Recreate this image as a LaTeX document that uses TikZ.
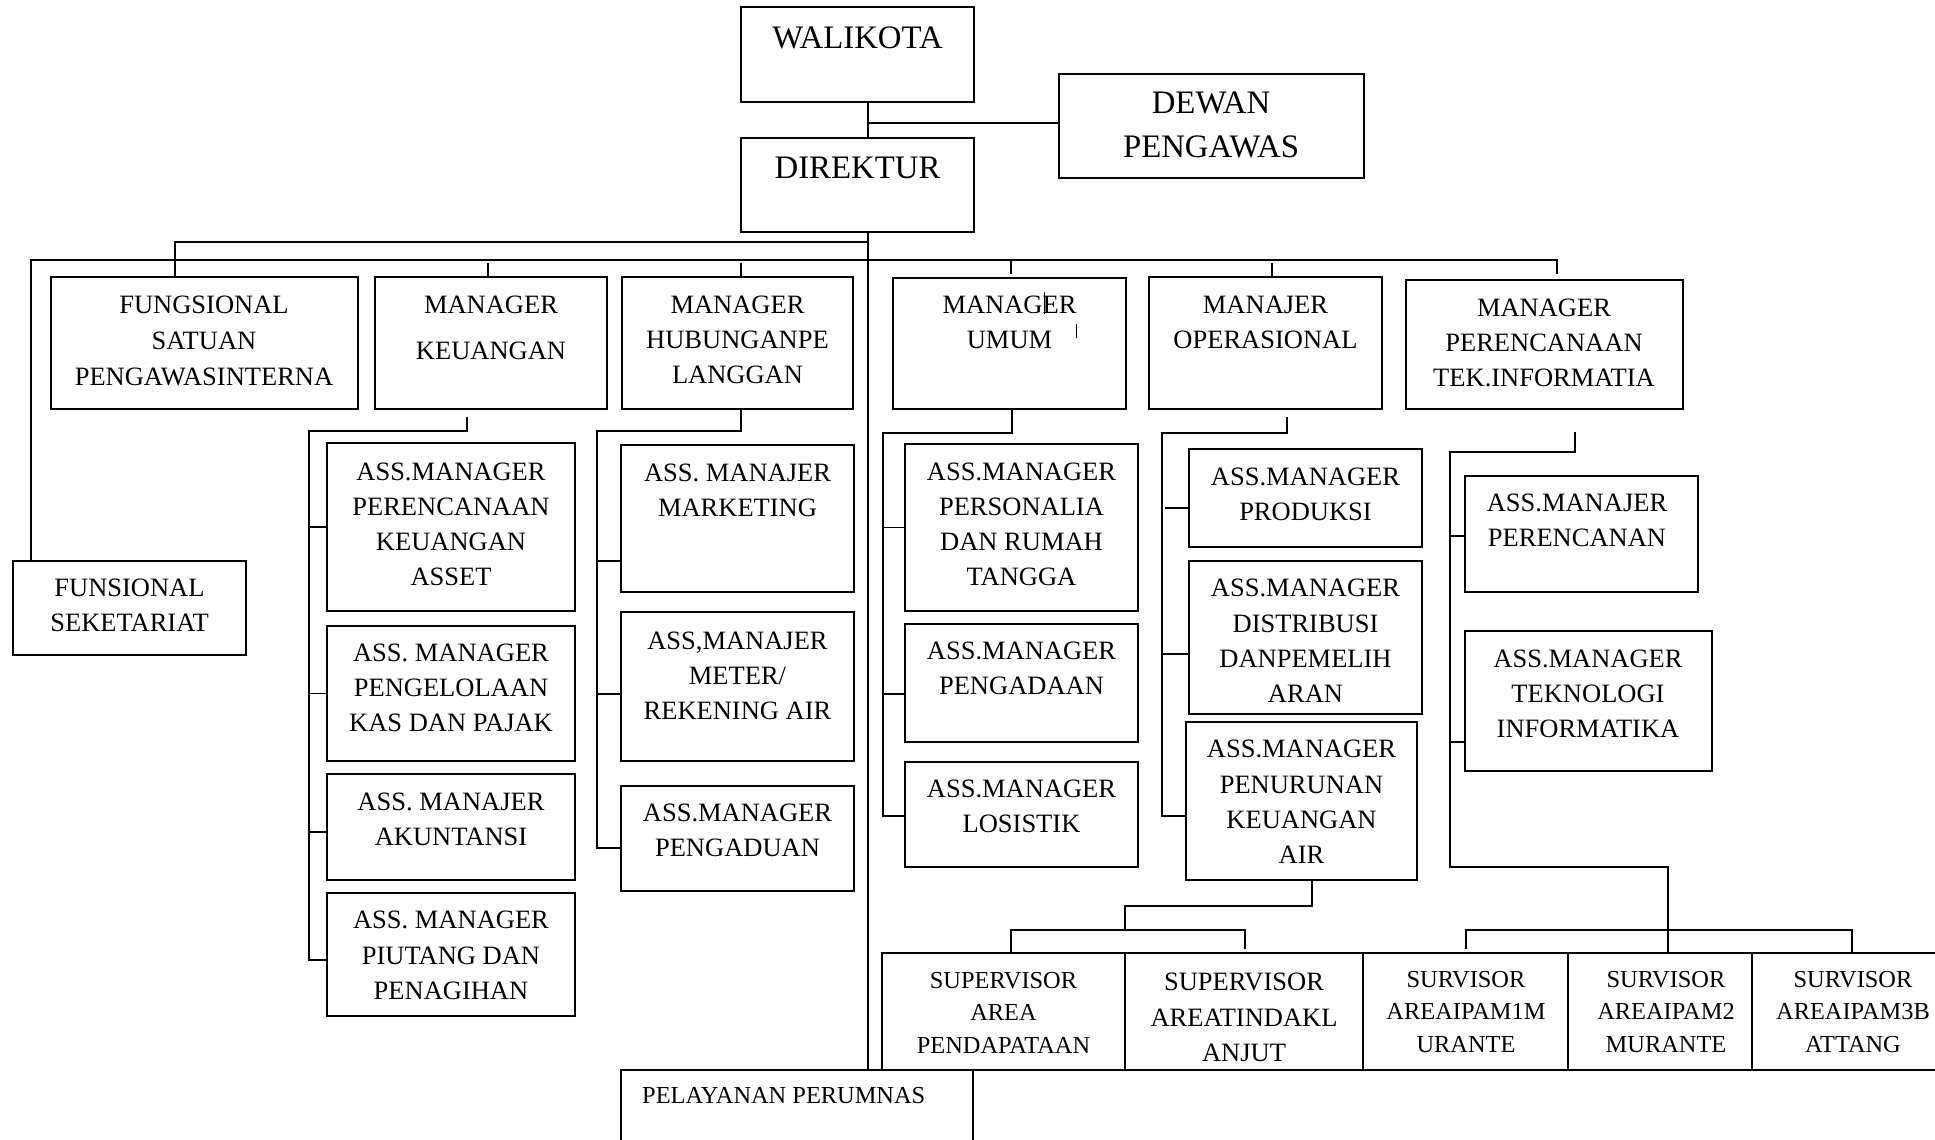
\documentclass[tikz,border=0pt]{standalone}
\usepackage{fontspec}
\setmainfont{Liberation Serif}
\usetikzlibrary{fit}

% a framed unit given by two opposite corners
\newcommand{\unitbox}[5]{\node[box, fit={(#2,#3) (#4,#5)}] (#1) {};}

\begin{document}
\begin{tikzpicture}[x=1pt, y=-1pt,
  box/.style={draw, line width=2pt, inner sep=0pt, outer sep=0pt},
  ln/.style={line width=1.6pt},
  lbl/.style={inner sep=0pt, align=center, font=\fontsize{26.5}{35.2}\selectfont},
  big/.style={lbl, font=\fontsize{32.8}{44}\selectfont},
  small/.style={lbl, font=\fontsize{24.4}{32.5}\selectfont}]

\useasboundingbox (0,0) rectangle (1935,1140);
\clip (0,0) rectangle (1935,1140);
\fill[white] (0,0) rectangle (1935,1140);

% ---- top level
\unitbox{walikota}{741}{7}{974}{102}
\unitbox{dewan}{1059}{74}{1364}{178}
\unitbox{direktur}{741}{138}{974}{232}
\node[big] (walikota-t) at (857.5,38) {WALIKOTA};
\node[big] (dewan-t) at (1211,125) {DEWAN\\PENGAWAS};
\node[big] (direktur-t) at (857.5,168) {DIREKTUR};

% ---- managers
\unitbox{fsp}{51}{277}{358}{409}
\unitbox{mkeu}{375}{277}{607}{409}
\unitbox{mhub}{622}{277}{853}{409}
\unitbox{mumum}{893}{278}{1126}{409}
\unitbox{mops}{1149}{277}{1382}{409}
\unitbox{mren}{1406}{280}{1683}{409}
\unitbox{fsek}{13}{561}{246}{655}
\node[lbl, font=\fontsize{26.5}{36}\selectfont] (fsp-t) at (204,341) {FUNGSIONAL\\SATUAN\\PENGAWASINTERNA};
\node[lbl, font=\fontsize{26.5}{46}\selectfont] (mkeu-t) at (491,328) {MANAGER\\KEUANGAN};
\node[lbl] (mhub-t) at (737.5,340) {MANAGER\\HUBUNGANPE\\LANGGAN};
\node[lbl] (mumum-t) at (1009.5,322.5) {MANAGER\\UMUM};
\node[lbl] (mops-t) at (1265.5,322.5) {MANAJER\\OPERASIONAL};
\node[lbl] (mren-t) at (1544,343) {MANAGER\\PERENCANAAN\\TEK.INFORMATIA};
\node[lbl] (fsek-t) at (129.5,605.5) {FUNSIONAL\\SEKETARIAT};

% ---- keuangan
\unitbox{k1}{327}{443}{575}{611}
\unitbox{k2}{327}{626}{575}{761}
\unitbox{k3}{327}{774}{575}{880}
\unitbox{k4}{327}{893}{575}{1016}
\node[lbl] (k1-t) at (451,524.5) {ASS.MANAGER\\PERENCANAAN\\KEUANGAN\\ASSET};
\node[lbl] (k2-t) at (451,688) {ASS. MANAGER\\PENGELOLAAN\\KAS DAN PAJAK};
\node[lbl] (k3-t) at (451,819.5) {ASS. MANAJER\\AKUNTANSI};
\node[lbl] (k4-t) at (451,955.5) {ASS. MANAGER\\PIUTANG DAN\\PENAGIHAN};

% ---- hubungan pelanggan
\unitbox{h1}{621}{445}{854}{592}
\unitbox{h2}{621}{612}{854}{761}
\unitbox{h3}{621}{786}{854}{891}
\node[lbl] (h1-t) at (737.5,490) {ASS. MANAJER\\MARKETING};
\node[lbl] (h2-t) at (737.5,676) {ASS,MANAJER\\METER/\\REKENING AIR};
\node[lbl] (h3-t) at (737.5,830) {ASS.MANAGER\\PENGADUAN};

% ---- umum
\unitbox{u1}{905}{444}{1138}{611}
\unitbox{u2}{905}{624}{1138}{742}
\unitbox{u3}{905}{762}{1138}{867}
\node[lbl] (u1-t) at (1021.5,524.5) {ASS.MANAGER\\PERSONALIA\\DAN RUMAH\\TANGGA};
\node[lbl] (u2-t) at (1021.5,668.5) {ASS.MANAGER\\PENGADAAN};
\node[lbl] (u3-t) at (1021.5,806) {ASS.MANAGER\\LOSISTIK};

% ---- operasional
\unitbox{o1}{1189}{449}{1422}{547}
\unitbox{o2}{1189}{561}{1422}{714}
\unitbox{o3}{1186}{722}{1417}{880}
\node[lbl] (o1-t) at (1305.5,494) {ASS.MANAGER\\PRODUKSI};
\node[lbl] (o2-t) at (1305.5,641) {ASS.MANAGER\\DISTRIBUSI\\DANPEMELIH\\ARAN};
\node[lbl] (o3-t) at (1301.5,802) {ASS.MANAGER\\PENURUNAN\\KEUANGAN\\AIR};

% ---- perencanaan
\unitbox{p1}{1465}{476}{1698}{592}
\unitbox{p2}{1465}{631}{1712}{771}
\node[lbl] (p1-t) at (1577,520.5) {ASS.MANAJER\\PERENCANAN};
\node[lbl] (p2-t) at (1588,694) {ASS.MANAGER\\TEKNOLOGI\\INFORMATIKA};

% ---- supervisors
\unitbox{s1}{882}{953}{1125}{1070}
\unitbox{s2}{1125}{953}{1363}{1070}
\unitbox{s3}{1363}{953}{1568}{1070}
\unitbox{s4}{1568}{953}{1752}{1070}
\unitbox{s5}{1752}{953}{1950}{1070}
\node[small] (s1-t) at (1003.5,1012.5) {SUPERVISOR\\AREA\\PENDAPATAAN};
\node[lbl, font=\fontsize{26.5}{35.5}\selectfont] (s2-t) at (1244,1017.5) {SUPERVISOR\\AREATINDAKL\\ANJUT};
\node[small] (s3-t) at (1466,1012) {SURVISOR\\AREAIPAM1M\\URANTE};
\node[small] (s4-t) at (1666,1012) {SURVISOR\\AREAIPAM2\\MURANTE};
\node[small] (s5-t) at (1853,1012) {SURVISOR\\AREAIPAM3B\\ATTANG};

\unitbox{pel}{621}{1070}{973}{1160}
\node[small, anchor=west] (pel-t) at (642,1096) {PELAYANAN PERUMNAS};

% ---- trunk and top bars
\coordinate (trk) at (868,0);
\draw[ln] (walikota.south -| trk) -- (direktur.north -| trk);
\draw[ln] (direktur.south -| trk) -- (pel.north -| trk);
\draw[ln] ([yshift=3pt]dewan.west -| trk) -- ([yshift=3pt]dewan.west);
\coordinate (ja) at (868,242);
\coordinate (jb) at (175,242);
\draw[ln] (ja) -- (jb) -- (fsp.north -| jb);
\coordinate (bl) at (31,260);
\coordinate (br) at (1557,260);
\draw[ln] (fsek.north -| bl) -- (bl) -- (br) -- (1557,274);
\coordinate (xkeu) at (488,263);
\coordinate (xhub) at (741,263);
\coordinate (xumum) at (1011,260);
\coordinate (xops) at (1272,263);
\draw[ln] (xkeu) -- (mkeu.north -| xkeu);
\draw[ln] (xhub) -- (mhub.north -| xhub);
\draw[ln] (xumum) -- ([yshift=4pt]mumum.north -| xumum);
\draw[ln] (xops) -- (mops.north -| xops);

% ---- keuangan branches
\coordinate (k-a) at (467,417);
\coordinate (k-b) at (467,431);
\coordinate (k-c) at (309,431);
\draw[ln] (k-a) -- (k-b) -- (k-c) |- ([yshift=-5.5pt]k4.west);
\draw[ln] (k1.west) -- +(-18,0);
\draw[ln] (k2.west) -- +(-18,0);
\draw[ln] ([yshift=-5pt]k3.west) -- +(-18,0);

% ---- hubungan pelanggan branches
\coordinate (h-b) at (741,431);
\coordinate (h-c) at (597,431);
\draw[ln] (mhub.south -| h-b) -- (h-b) -- (h-c) |- ([yshift=-9.5pt]h3.west);
\draw[ln] ([yshift=-42.5pt]h1.west) -- +(-24,0);
\draw[ln] ([yshift=-7.5pt]h2.west) -- +(-24,0);

% ---- umum branches
\coordinate (u-b) at (1012,433);
\coordinate (u-c) at (883,433);
\draw[ln] (mumum.south -| u-b) -- (u-b) -- (u-c) |- ([yshift=-1.5pt]u3.west);
\draw[ln] (u1.west) -- +(-22,0);
\draw[ln] ([yshift=-11pt]u2.west) -- +(-22,0);

% ---- operasional branches
\coordinate (o-a) at (1287,417);
\coordinate (o-b) at (1287,433);
\coordinate (o-c) at (1162,433);
\draw[ln] (o-a) -- (o-b) -- (o-c) |- ([yshift=-15pt]o3.west);
\draw[ln] ([yshift=-10pt]o1.west) -- +(-24,0);
\draw[ln] ([yshift=-16.5pt]o2.west) -- +(-27,0);

% ---- perencanaan branches and the area supervisors
\coordinate (p-a) at (1575,432);
\coordinate (p-b) at (1575,452);
\coordinate (p-c) at (1450,452);
\coordinate (p-d) at (1450,867);
\coordinate (p-e) at (1668,867);
\draw[ln] (p-a) -- (p-b) -- (p-c) -- (p-d) -- (p-e) -- (s4.north -| p-e);
\draw[ln] ([yshift=-2pt]p1.west) -- +(-15,0);
\draw[ln] ([yshift=-41pt]p2.west) -- +(-15,0);
\coordinate (tl) at (1466,930);
\coordinate (tl2) at (1466,949);
\coordinate (tr) at (1852,930);
\draw[ln] (tl2) -- (tl) -- (tr) -- (s5.north -| tr);

% ---- supervisors under penurunan
\coordinate (sa) at (1312,906);
\coordinate (sb) at (1125,906);
\coordinate (sc) at (1125,930);
\coordinate (sl) at (1011,930);
\coordinate (sr) at (1245,930);
\coordinate (sr2) at (1245,949);
\draw[ln] (o3.south -| sa) -- (sa) -- (sb) -- (sc);
\draw[ln] (s1.north -| sl) -- (sl) -- (sr) -- (sr2);

% ---- small tick marks inside the umum box
\draw[line width=1pt] (1044,292) -- (1044,314);
\draw[line width=1pt] (1076,324) -- (1076,338);
\end{tikzpicture}
\end{document}
